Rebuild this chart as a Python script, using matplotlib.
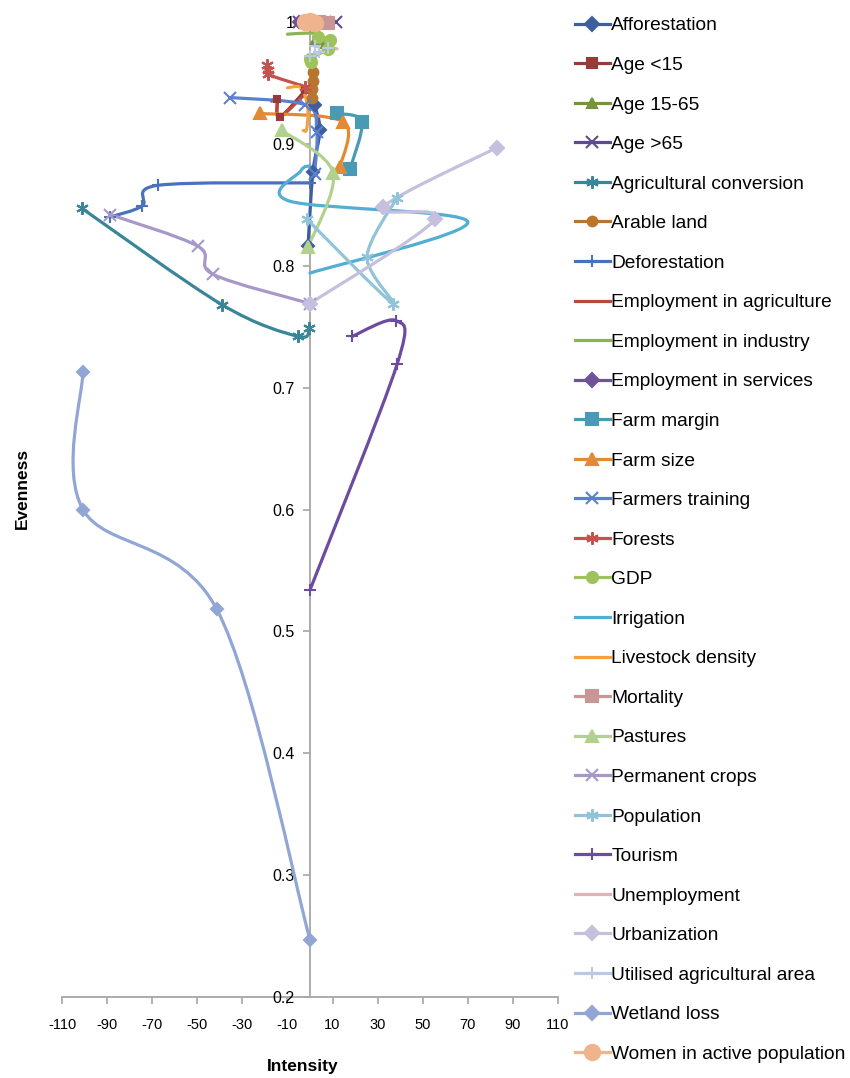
import numpy as np
import matplotlib
matplotlib.use("Agg")
import matplotlib.pyplot as plt
from matplotlib.path import Path
from matplotlib.patches import PathPatch
from matplotlib.lines import Line2D

plt.rcParams['font.family'] = ['Liberation Sans', 'DejaVu Sans']
plt.rcParams['axes.unicode_minus'] = False

# ---- data (Intensity, Evenness) ----
afforestation_x = [2, 4.4, 1.3, -0.9]
afforestation_y = [0.932, 0.911, 0.877, 0.816]
age_lt15_x = [-14.5, -13.5, -2]
age_lt15_y = [0.937, 0.922, 0.944]
age_15_65_x = [2, 6]
age_15_65_y = [0.985, 0.982]
age_gt65_x = [-5, 11.5]
age_gt65_y = [1.0, 1.0]
agri_conv_x = [-101.1, -39.0, -5.3, -0.4]
agri_conv_y = [0.847, 0.768, 0.742, 0.749]
arable_x = [1.3, 1.3, 0.9, 0.9]
arable_y = [0.959, 0.952, 0.945, 0.938]
deforest_x = [0, -67.4, -74.5, -88.7]
deforest_y = [0.868, 0.866, 0.849, 0.840]
emp_agri_x = [-17, -14.5, -13.5, 0]
emp_agri_y = [0.935, 0.937, 0.922, 0.945]
emp_ind_x = [-10, 0, 5]
emp_ind_y = [0.990, 0.991, 0.990]
emp_serv_x = [-5, 2]
emp_serv_y = [1.0, 1.0]
farm_margin_x = [12, 23, 17.7]
farm_margin_y = [0.925, 0.918, 0.879]
farm_size_x = [-22, 14.8, 13.3]
farm_size_y = [0.925, 0.918, 0.881]
farmers_tr_x = [-35.5, -2, 3, 2]
farmers_tr_y = [0.938, 0.932, 0.91, 0.875]
forests_x = [-19, -18.6, -18.6, -2.2]
forests_y = [0.965, 0.961, 0.957, 0.947]
gdp_x = [3.5, 9, 8, 0, 0.5]
gdp_y = [0.988, 0.985, 0.978, 0.970, 0.967]
irrigation_x = [0, 70, -9, -4, 0]
irrigation_y = [0.794, 0.836, 0.853, 0.878, 0.882]
livestock_x = [-10, -4, -1, -1.5, -3]
livestock_y = [0.946, 0.946, 0.93, 0.912, 0.911]
mortality_x = [4, 8]
mortality_y = [1.0, 0.999]
pastures_x = [-12.4, 10.2, -0.9]
pastures_y = [0.911, 0.876, 0.815]
perm_crops_x = [0, -43, -49.7, -88.7]
perm_crops_y = [0.769, 0.793, 0.816, 0.842]
population_x = [-1.3, 36.8, 25.3, 38.6]
population_y = [0.838, 0.769, 0.807, 0.856]
tourism_x = [18.6, 38.1, 38.6, 0]
tourism_y = [0.742, 0.755, 0.719, 0.534]
unemployment_x = [4, 12]
unemployment_y = [0.980, 0.978]
urbanization_x = [82.9, 32.4, 55.4, 0]
urbanization_y = [0.897, 0.848, 0.838, 0.769]
uaa_x = [2, 8, 4, 0]
uaa_y = [0.980, 0.979, 0.975, 0.972]
wetland_x = [-100.7, -100.7, -41.3, 0]
wetland_y = [0.713, 0.600, 0.518, 0.247]
women_x = [-2, 0, 2]
women_y = [1.0, 1.001, 0.999]

asterisk = (6, 2, 0)

# name, x, y, color, marker, marker size
series = [
    ("Afforestation", afforestation_x, afforestation_y, "#3E5E9E", "D", 6),
    ("Age <15", age_lt15_x, age_lt15_y, "#963B39", "s", 5),
    ("Age 15-65", age_15_65_x, age_15_65_y, "#77933C", "^", 6),
    ("Age >65", age_gt65_x, age_gt65_y, "#5F4B8B", "x", 8),
    ("Agricultural conversion", agri_conv_x, agri_conv_y, "#3A8597", asterisk, 9),
    ("Arable land", arable_x, arable_y, "#B8752F", "o", 7),
    ("Deforestation", deforest_x, deforest_y, "#4A72BC", "+", 9),
    ("Employment in agriculture", emp_agri_x, emp_agri_y, "#B9483F", None, 0),
    ("Employment in industry", emp_ind_x, emp_ind_y, "#8DB352", None, 0),
    ("Employment in services", emp_serv_x, emp_serv_y, "#6E52A0", "D", 6),
    ("Farm margin", farm_margin_x, farm_margin_y, "#4A9AB6", "s", 8),
    ("Farm size", farm_size_x, farm_size_y, "#E38A35", "^", 8),
    ("Farmers training", farmers_tr_x, farmers_tr_y, "#5B80D0", "x", 8),
    ("Forests", forests_x, forests_y, "#C4534F", asterisk, 9),
    ("GDP", gdp_x, gdp_y, "#9DC35A", "o", 8),
    ("Irrigation", irrigation_x, irrigation_y, "#52AED2", None, 0),
    ("Livestock density", livestock_x, livestock_y, "#F4A23E", None, 0),
    ("Mortality", mortality_x, mortality_y, "#C99696", "s", 9),
    ("Pastures", pastures_x, pastures_y, "#B2D18E", "^", 8),
    ("Permanent crops", perm_crops_x, perm_crops_y, "#A898C8", "x", 8),
    ("Population", population_x, population_y, "#92C4D9", asterisk, 9),
    ("Tourism", tourism_x, tourism_y, "#6C4C9F", "+", 9),
    ("Unemployment", unemployment_x, unemployment_y, "#DDB5B4", None, 0),
    ("Urbanization", urbanization_x, urbanization_y, "#C6BFDE", "D", 7),
    ("Utilised agricultural area", uaa_x, uaa_y, "#B8CAE8", "+", 9),
    ("Wetland loss", wetland_x, wetland_y, "#92A6D6", "D", 6),
    ("Women in active population", women_x, women_y, "#F0B48C", "o", 11),
]


def smooth_path(xs, ys):
    # Bezier segments with Catmull-Rom tangents, like Excel's smoothed lines
    p = np.column_stack([xs, ys]).astype(float)
    n = len(p)
    verts = [p[0]]
    codes = [Path.MOVETO]
    for i in range(n - 1):
        a = p[i - 1] if i > 0 else p[i]
        b = p[i]
        c = p[i + 1]
        d = p[i + 2] if i + 2 < n else p[i + 1]
        verts += [b + (c - a) / 6, c - (d - b) / 6, c]
        codes += [Path.CURVE4] * 3
    return Path(verts, codes)


fig = plt.figure(figsize=(8.5, 10.78), dpi=100)
ax = fig.add_axes([62 / 850, 1 - 997 / 1078, 496 / 850, 975 / 1078])

handles = []
for name, xs, ys, col, mk, ms in series:
    ax.add_patch(PathPatch(smooth_path(xs, ys), fill=False, edgecolor=col,
                           lw=2.3, zorder=3, clip_on=False, capstyle='round'))
    if mk is not None:
        ax.plot(xs, ys, ls='none', marker=mk, ms=ms, color=col, mec=col,
                mew=1.5, zorder=4, clip_on=False)
    handles.append(Line2D([], [], color=col, lw=2.3, marker=mk,
                          ms=max(ms, 7) if mk else 0, mec=col, mew=1.5))

ax.set_xlim(-110, 110)
ax.set_ylim(0.2, 1.0)
ax.set_xticks(np.arange(-110, 111, 20))
ax.set_yticks(np.arange(0.2, 1.01, 0.1))
ax.yaxis.set_major_formatter(plt.FuncFormatter(lambda v, p: '%g' % round(v, 1)))

for s in ['top', 'right']:
    ax.spines[s].set_visible(False)
ax.spines['left'].set_position(('data', 0))
for s in ['left', 'bottom']:
    ax.spines[s].set_color('#A6A6A6')
    ax.spines[s].set_linewidth(1.3)
    ax.spines[s].set_zorder(1)
ax.tick_params(axis='x', direction='out', length=5, width=1.2, color='#A6A6A6',
               labelsize=10.5, pad=10)
ax.tick_params(axis='y', direction='out', length=5, width=1.2, color='#A6A6A6',
               labelsize=11.5, pad=6)

fig.text(22 / 850, 1 - 488 / 1078, "Evenness", rotation=90, ha='center',
         va='center', fontsize=12.5, fontweight='bold')
fig.text(303 / 850, 1 - 1066 / 1078, "Intensity", ha='center', va='center',
         fontsize=12.5, fontweight='bold')

fig.legend(handles, [s[0] for s in series], loc='upper left',
           bbox_to_anchor=(575 / 850, 1 - 17 / 1078), frameon=False,
           fontsize=13.8, handlelength=1.8, handletextpad=0.1,
           labelspacing=1.155, borderpad=0, borderaxespad=0)

fig.savefig("out.png", dpi=100)
